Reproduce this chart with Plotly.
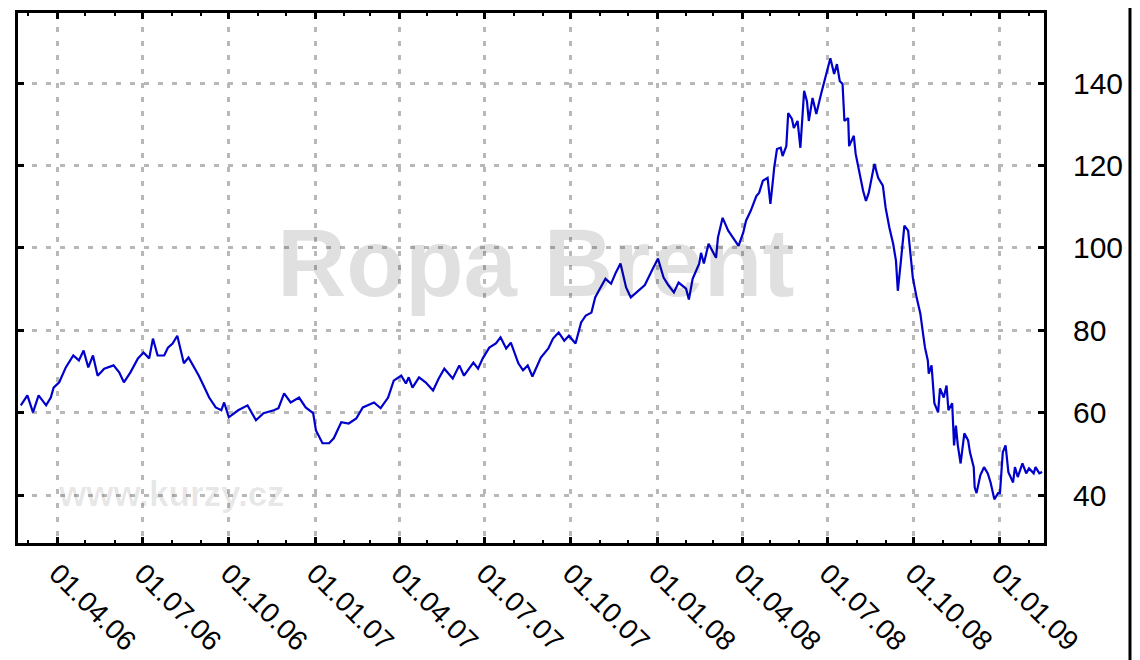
import plotly.graph_objects as go

# Brent crude oil price (USD/bbl)
dates = [
    "2006-02-21", "2006-02-28", "2006-03-06", "2006-03-12", "2006-03-20", "2006-03-25", "2006-03-28",
    "2006-04-03", "2006-04-10", "2006-04-18", "2006-04-24", "2006-04-29", "2006-05-04", "2006-05-09",
    "2006-05-14", "2006-05-21", "2006-05-31", "2006-06-06", "2006-06-11", "2006-06-18", "2006-06-26",
    "2006-07-02", "2006-07-08", "2006-07-12", "2006-07-17", "2006-07-24", "2006-07-28", "2006-08-02",
    "2006-08-07", "2006-08-11", "2006-08-14", "2006-08-19", "2006-08-25", "2006-08-30", "2006-09-04",
    "2006-09-10", "2006-09-17", "2006-09-23", "2006-09-26", "2006-10-01", "2006-10-11", "2006-10-21",
    "2006-10-30", "2006-11-07", "2006-11-18", "2006-11-23", "2006-11-29", "2006-12-06", "2006-12-15",
    "2006-12-22", "2006-12-30", "2007-01-02", "2007-01-09", "2007-01-16", "2007-01-21", "2007-01-25",
    "2007-01-29", "2007-02-06", "2007-02-14", "2007-02-21", "2007-03-05", "2007-03-12", "2007-03-20",
    "2007-03-26", "2007-04-03", "2007-04-08", "2007-04-11", "2007-04-15", "2007-04-22", "2007-04-29",
    "2007-05-07", "2007-05-13", "2007-05-19", "2007-05-28", "2007-06-04", "2007-06-09", "2007-06-19",
    "2007-06-24", "2007-06-29", "2007-07-06", "2007-07-13", "2007-07-18", "2007-07-24", "2007-07-29",
    "2007-08-01", "2007-08-06", "2007-08-11", "2007-08-16", "2007-08-21", "2007-08-25", "2007-08-30",
    "2007-09-07", "2007-09-12", "2007-09-18", "2007-09-24", "2007-09-29", "2007-10-06", "2007-10-12",
    "2007-10-17", "2007-10-23", "2007-10-27", "2007-11-01", "2007-11-07", "2007-11-13", "2007-11-18",
    "2007-11-23", "2007-11-29", "2007-12-04", "2007-12-12", "2007-12-19", "2007-12-28", "2008-01-02",
    "2008-01-08", "2008-01-13", "2008-01-19", "2008-01-24", "2008-02-01", "2008-02-04", "2008-02-08",
    "2008-02-15", "2008-02-17", "2008-02-20", "2008-02-25", "2008-03-04", "2008-03-06", "2008-03-11",
    "2008-03-17", "2008-03-23", "2008-03-28", "2008-04-02", "2008-04-05", "2008-04-10", "2008-04-16",
    "2008-04-19", "2008-04-23", "2008-04-28", "2008-05-01", "2008-05-04", "2008-05-05", "2008-05-08",
    "2008-05-12", "2008-05-14", "2008-05-18", "2008-05-20", "2008-05-24", "2008-05-26", "2008-05-30",
    "2008-06-02", "2008-06-06", "2008-06-09", "2008-06-11", "2008-06-15", "2008-06-19", "2008-06-24",
    "2008-06-27", "2008-06-30", "2008-07-04", "2008-07-08", "2008-07-11", "2008-07-14", "2008-07-17",
    "2008-07-19", "2008-07-23", "2008-07-24", "2008-07-29", "2008-07-31", "2008-08-04", "2008-08-08",
    "2008-08-11", "2008-08-14", "2008-08-20", "2008-08-24", "2008-08-29", "2008-09-01", "2008-09-05",
    "2008-09-09", "2008-09-12", "2008-09-14", "2008-09-17", "2008-09-21", "2008-09-25", "2008-09-27",
    "2008-09-30", "2008-10-04", "2008-10-08", "2008-10-11", "2008-10-13", "2008-10-16", "2008-10-17",
    "2008-10-20", "2008-10-23", "2008-10-27", "2008-10-29", "2008-11-02", "2008-11-05", "2008-11-07",
    "2008-11-11", "2008-11-13", "2008-11-15", "2008-11-17", "2008-11-20", "2008-11-24", "2008-11-28",
    "2008-11-30", "2008-12-04", "2008-12-05", "2008-12-07", "2008-12-11", "2008-12-15", "2008-12-19",
    "2008-12-22", "2008-12-26", "2008-12-30", "2009-01-01", "2009-01-04", "2009-01-07", "2009-01-10",
    "2009-01-15", "2009-01-17", "2009-01-20", "2009-01-25", "2009-01-29", "2009-02-01", "2009-02-06",
    "2009-02-08", "2009-02-12", "2009-02-15",
]
prices = [
    61.8, 64.2, 60.1, 64.2, 61.8, 63.7, 66.1,
    67.4, 71.0, 73.9, 72.7, 75.1, 71.0, 73.9,
    69.0, 70.7, 71.5, 69.8, 67.4, 69.8, 73.2,
    74.6, 73.2, 78.0, 73.9, 73.9, 75.8, 76.8,
    78.7, 75.1, 72.0, 73.4, 71.0, 69.0, 66.6,
    63.7, 61.3, 60.6, 62.5, 58.9, 60.6, 61.8,
    58.2, 59.9, 60.6, 61.1, 64.7, 62.5, 63.7,
    61.3, 59.9, 55.7, 52.6, 52.6, 53.8, 55.7,
    57.7, 57.4, 58.6, 61.3, 62.5, 61.1, 63.7,
    67.8, 69.0, 67.1, 68.6, 66.1, 68.6, 67.4,
    65.4, 68.3, 70.7, 68.3, 71.5, 69.0, 72.2,
    70.7, 73.2, 75.8, 76.8, 78.3, 75.6, 77.0,
    75.1, 72.0, 70.3, 71.5, 68.8, 71.0, 73.4,
    75.6, 78.0, 79.5, 77.5, 78.7, 76.8, 81.9,
    83.6, 84.3, 88.0, 90.1, 92.5, 91.3, 94.0,
    96.2, 90.4, 88.0, 89.6, 91.0, 95.2, 97.4,
    92.8, 91.0, 89.2, 91.6, 90.1, 87.5, 92.5,
    96.2, 98.8, 96.2, 101.0, 97.6, 102.5, 107.3,
    104.2, 102.2, 100.5, 103.7, 106.6, 109.0, 112.6,
    113.4, 116.3, 117.0, 110.7, 117.0, 119.4, 124.0,
    124.3, 122.3, 124.7, 132.7, 131.3, 129.1, 130.8,
    124.3, 138.1, 135.6, 130.8, 136.4, 132.5, 137.3,
    140.0, 142.4, 146.0, 142.2, 144.6, 140.5, 139.8,
    130.8, 131.5, 124.7, 127.2, 122.8, 118.0, 113.8,
    111.4, 113.4, 120.4, 117.0, 115.1, 109.7, 104.9,
    101.0, 96.9, 89.6, 96.2, 105.4, 104.2, 99.8,
    92.8, 88.0, 84.1, 79.0, 75.8, 72.7, 69.5,
    71.5, 62.3, 60.1, 65.9, 63.7, 66.6, 60.6,
    62.3, 52.1, 56.9, 52.1, 47.7, 55.0, 53.3,
    50.4, 46.8, 41.9, 40.5, 44.8, 46.8, 45.3,
    43.1, 39.0, 40.5, 40.5, 50.4, 52.1, 45.6,
    43.1, 46.8, 44.4, 47.7, 45.3, 46.5, 45.3,
    46.8, 45.3, 45.6,
]

x_tick_vals = ["2006-04-01", "2006-07-01", "2006-10-01", "2007-01-01", "2007-04-01", "2007-07-01",
               "2007-10-01", "2008-01-01", "2008-04-01", "2008-07-01", "2008-10-01", "2009-01-01"]
x_tick_text = ["01.04.06", "01.07.06", "01.10.06", "01.01.07", "01.04.07", "01.07.07",
               "01.10.07", "01.01.08", "01.04.08", "01.07.08", "01.10.08", "01.01.09"]
y_tick_vals = [40, 60, 80, 100, 120, 140]

FONT = "Liberation Sans, Arial, sans-serif"
GRID = "#b8b8b8"

fig = go.Figure()
fig.add_trace(go.Scatter(
    x=dates, y=prices, mode="lines",
    line=dict(color="#0000cc", width=2.2),
    showlegend=False, hoverinfo="x+y",
))

# watermarks (semi-transparent so the line stays blue underneath)
fig.add_annotation(
    text="<b>Ropa Brent</b>", xref="paper", yref="paper", x=0.504, y=0.529,
    xanchor="center", yanchor="middle", showarrow=False,
    font=dict(family=FONT, size=96, color="rgba(0,0,0,0.12)"),
)
fig.add_annotation(
    text="<b>www.kurzy.cz</b>", xref="paper", yref="paper", x=0.1496, y=0.093,
    xanchor="center", yanchor="middle", showarrow=False,
    font=dict(family=FONT, size=35, color="rgba(0,0,0,0.09)"),
)

# outer border line on the right side of the picture
fig.add_shape(type="line", xref="paper", yref="paper",
              x0=1.0838, x1=1.0838, y0=-0.3, y1=1.1,
              line=dict(color="black", width=3))

fig.update_xaxes(
    type="date", range=["2006-02-18", "2009-02-17"], automargin=False,
    tickvals=x_tick_vals, ticktext=x_tick_text, tickangle=45,
    ticks="inside", ticklen=6, tickwidth=3, tickcolor="black",
    ticklabelstandoff=0,
    minor=dict(ticks="inside", ticklen=3, tickwidth=2, tickcolor="black",
               dtick="M1", tick0="2006-04-01", showgrid=False),
    showgrid=True, gridcolor=GRID, gridwidth=3, griddash="5px,9px",
    showline=True, linecolor="black", linewidth=3, mirror="allticks",
    zeroline=False,
    tickfont=dict(family=FONT, size=28, color="black"),
)
fig.update_yaxes(
    side="right", range=[28.4, 157], automargin=False,
    tickvals=y_tick_vals,
    ticks="inside", ticklen=6, tickwidth=3, tickcolor="black",
    ticklabelstandoff=20,
    showgrid=True, gridcolor=GRID, gridwidth=3, griddash="5px,9px",
    showline=True, linecolor="black", linewidth=3, mirror="allticks",
    zeroline=False,
    tickfont=dict(family=FONT, size=30, color="black"),
)
# the page adds ~8px body margin; figure is shrunk so the page does not overflow
fig.update_layout(
    width=1132, height=652,
    margin=dict(l=10, r=96, t=5, b=117),
    paper_bgcolor="white", plot_bgcolor="white",
    showlegend=False,
)

fig.write_html("out.html")
